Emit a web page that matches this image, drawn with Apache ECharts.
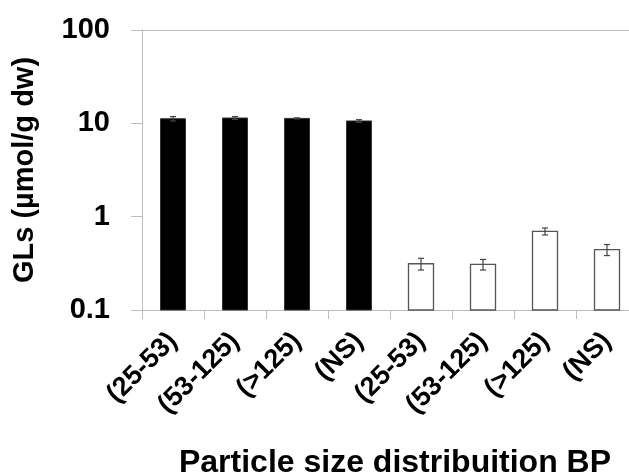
<!DOCTYPE html>
<html>
<head>
<meta charset="utf-8">
<script src="https://cdn.jsdelivr.net/npm/echarts@6/dist/echarts.min.js"></script>
<style>
  html, body { margin: 0; padding: 0; background: #fff; }
  #chart { width: 629px; height: 476px; }
</style>
</head>
<body>
<div id="chart"></div>
<script>
const categories = ['(25-53)', '(53-125)', '(>125)', '(NS)', '(25-53)', '(53-125)', '(>125)', '(NS)']
const blackValues = [11.2, 11.4, 11.3, 10.6]
const blackErr = [0.6, 0.4, 0.15, 0.35]
const whiteValues = [0.313, 0.308, 0.697, 0.443]
const whiteErr = [0.045, 0.04, 0.06, 0.06]
const yTicks = [0.1, 1, 10, 100]
const yMin = 0.1

const font = '"Liberation Sans", Arial, sans-serif'

// [category index, value, error, filled?]
const barData = []
blackValues.forEach((v, i) => barData.push([i, v, blackErr[i], 1]))
whiteValues.forEach((v, i) => barData.push([i + 4, v, whiteErr[i], 0]))

let myChart = echarts.init(document.getElementById('chart'))

function renderBar(params, api) {
  const x = api.value(0)
  const v = api.value(1)
  const e = api.value(2)
  const filled = api.value(3) === 1
  const top = api.coord([x, v])
  const base = api.coord([x, yMin])
  const bw = 25
  const lo = api.coord([x, v - e])
  const hi = api.coord([x, v + e])
  const w = 3
  const errStyle = { stroke: '#444', lineWidth: 1.2 }
  return {
    type: 'group',
    children: [
      {
        type: 'rect',
        shape: { x: top[0] - bw / 2, y: top[1], width: bw, height: base[1] - top[1] },
        style: filled
          ? { fill: '#000', stroke: '#333', lineWidth: 1 }
          : { fill: '#fff', stroke: '#555', lineWidth: 1.3 }
      },
      { type: 'line', shape: { x1: lo[0], y1: lo[1], x2: hi[0], y2: hi[1] }, style: errStyle },
      { type: 'line', shape: { x1: lo[0] - w, y1: lo[1], x2: lo[0] + w, y2: lo[1] }, style: errStyle },
      { type: 'line', shape: { x1: hi[0] - w, y1: hi[1], x2: hi[0] + w, y2: hi[1] }, style: errStyle }
    ]
  }
}

const option = {
  animation: false,
  grid: { left: 142, top: 30, width: 496, height: 280, containLabel: false, outerBoundsMode: 'none' },
  xAxis: [
    {
      type: 'category',
      data: categories,
      axisLine: { lineStyle: { color: '#bdbdbd', width: 1 } },
      axisTick: { show: true, length: 9, lineStyle: { color: '#bdbdbd' } },
      axisLabel: {
        rotate: 45, interval: 0, margin: 27,
        fontFamily: font, fontWeight: 'bold', fontSize: 27, color: '#000'
      },
      name: 'Particle size distribuition BP',
      nameLocation: 'middle',
      nameGap: 137,
      nameTextStyle: { fontFamily: font, fontWeight: 'bold', fontSize: 32, color: '#000', padding: [0, 0, 0, 10] }
    },
    {
      type: 'category',
      position: 'top',
      data: categories,
      axisLine: { show: true, lineStyle: { color: '#bdbdbd', width: 1 } },
      axisTick: { show: false },
      axisLabel: { show: false }
    }
  ],
  yAxis: {
    type: 'log',
    logBase: 10,
    min: yMin,
    max: 100,
    axisLine: { show: true, lineStyle: { color: '#bdbdbd', width: 1 } },
    axisTick: { show: true, length: 11, lineStyle: { color: '#bdbdbd' } },
    splitLine: { show: false },
    axisLabel: {
      margin: 32,
      fontFamily: font, fontWeight: 'bold', fontSize: 29, color: '#000',
      formatter: v => yTicks.includes(+v.toPrecision(3)) ? String(+v.toPrecision(3)) : ''
    },
    name: 'GLs (\u00b5mol/g dw)',
    nameLocation: 'middle',
    nameGap: 103,
    nameTextStyle: { fontFamily: font, fontWeight: 'bold', fontSize: 29, color: '#000' }
  },
  series: [
    {
      type: 'custom',
      data: barData,
      encode: { x: 0, y: 1 },
      renderItem: renderBar
    }
  ]
}

myChart.setOption(option)
</script>
</body>
</html>
